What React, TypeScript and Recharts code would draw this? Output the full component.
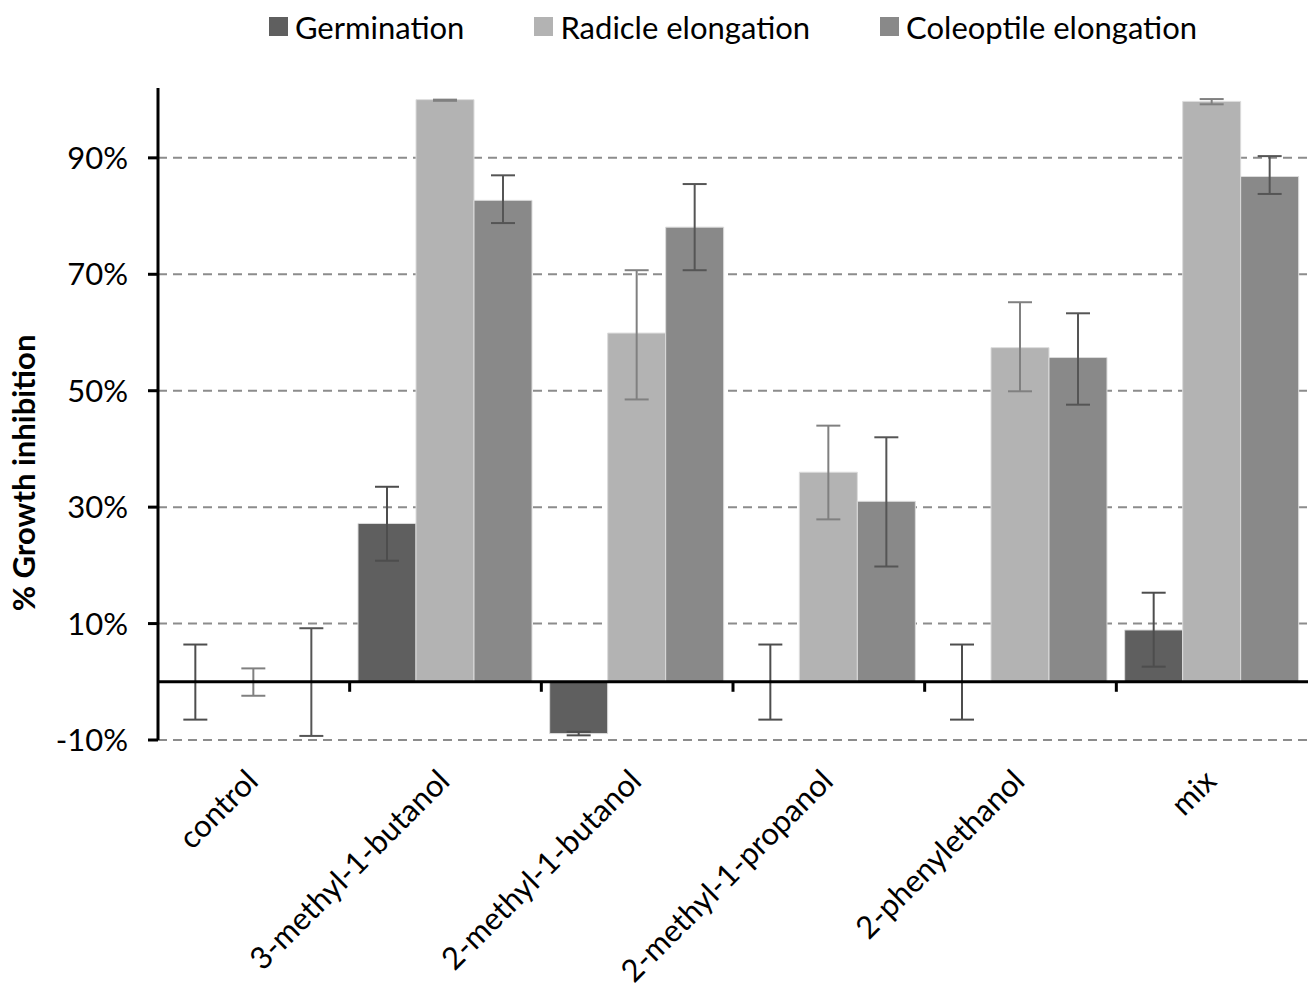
import React from 'react';
import {
  ComposedChart,
  Bar,
  XAxis,
  YAxis,
  CartesianGrid,
  ErrorBar,
  ReferenceLine,
  Legend,
} from 'recharts';

const categories = [
  'control',
  '3-methyl-1-butanol',
  '2-methyl-1-butanol',
  '2-methyl-1-propanol',
  '2-phenylethanol',
  'mix',
];

const germination = [0.01, 27.2, -8.9, 0.01, 0.01, 8.9];
const germinationLow = [-6.5, 20.8, -9.2, -6.5, -6.5, 2.6];
const germinationHigh = [6.4, 33.5, -8.6, 6.4, 6.4, 15.3];

const radicle = [0.01, 100, 59.9, 36.0, 57.4, 99.7];
const radicleLow = [-2.4, 99.8, 48.5, 27.9, 49.9, 99.2];
const radicleHigh = [2.3, 100.0, 70.7, 44.0, 65.2, 100.1];

const coleoptile = [0.01, 82.7, 78.1, 31.0, 55.7, 86.8];
const coleoptileLow = [-9.3, 78.8, 70.7, 19.8, 47.6, 83.8];
const coleoptileHigh = [9.2, 87.0, 85.5, 42.0, 63.3, 90.3];

const yTicks = [-10, 10, 30, 50, 70, 90];

const seriesNames = ['Germination', 'Radicle elongation', 'Coleoptile elongation'];
const seriesColors = ['#5f5f5f', '#b3b3b3', '#898989'];
const errorColors = ['#4d4d4d', '#808080', '#555555'];

const FONT = 'Lato, "Open Sans", sans-serif';

const data = categories.map((name, i) => ({
  name,
  germination: germination[i],
  germErr: [germination[i] - germinationLow[i], germinationHigh[i] - germination[i]],
  radicle: radicle[i],
  radErr: [radicle[i] - radicleLow[i], radicleHigh[i] - radicle[i]],
  coleoptile: coleoptile[i],
  colErr: [coleoptile[i] - coleoptileLow[i], coleoptileHigh[i] - coleoptile[i]],
}));

const XTick = (props: any) => {
  const { x, y, payload } = props;
  const ax = x + 6;
  const ay = y + 35;
  return (
    <text
      x={ax}
      y={ay}
      transform={`rotate(-45, ${ax}, ${ay})`}
      textAnchor="end"
      fontFamily={FONT}
      fontSize={31}
      fill="#000"
    >
      {payload.value}
    </text>
  );
};

const ZeroAxis = (props: any) => {
  const { x1, y1, x2, y2 } = props;
  const n = categories.length;
  const step = (x2 - x1) / n;
  const ticks = Array.from({ length: n - 1 }, (_, i) => x1 + step * (i + 1));
  return (
    <g>
      <line x1={x1} y1={y1} x2={x2} y2={y2} stroke="#000" strokeWidth={3} />
      {ticks.map((tx, i) => (
        <line key={i} x1={tx} x2={tx} y1={y1} y2={y1 + 10} stroke="#000" strokeWidth={3} />
      ))}
    </g>
  );
};

const LegendContent = () => (
  <div
    style={{
      display: 'flex',
      justifyContent: 'center',
      alignItems: 'center',
      height: 37,
      paddingLeft: 150,
      paddingRight: 8,
      boxSizing: 'border-box',
      fontFamily: FONT,
      fontSize: 31,
      color: '#000',
    }}
  >
    {seriesNames.map((n, i) => (
      <div
        key={n}
        style={{ display: 'flex', alignItems: 'center', marginLeft: i === 0 ? 0 : 70 }}
      >
        <span
          style={{
            display: 'inline-block',
            width: 19,
            height: 19,
            background: seriesColors[i],
            marginRight: 7,
          }}
        />
        <span>{n}</span>
      </div>
    ))}
  </div>
);

const YLabel = (props: any) => {
  const { viewBox } = props;
  const cx = viewBox.x + 27;
  const cy = viewBox.y + viewBox.height / 2 + 59;
  return (
    <text
      x={cx}
      y={cy}
      transform={`rotate(-90, ${cx}, ${cy})`}
      textAnchor="middle"
      fontFamily={FONT}
      fontSize={31}
      fontWeight="bold"
      fill="#000"
    >
      % Growth inhibition
    </text>
  );
};

export default function App() {
  return (
    <div style={{ width: 1308, height: 984 }}>
      <ComposedChart
        width={1308}
        height={984}
        data={data}
        margin={{ top: 43, right: 8, bottom: 0, left: 0 }}
        barCategoryGap="4.35%"
        barGap={0}
      >
        <Legend
          verticalAlign="top"
          content={<LegendContent />}
          wrapperStyle={{ top: 0, left: 0, width: 1308 }}
        />
        <CartesianGrid
          horizontal
          vertical={false}
          horizontalValues={yTicks}
          stroke="#8c8c8c"
          strokeWidth={2}
          strokeDasharray="9 6"
        />
        <XAxis
          dataKey="name"
          axisLine={false}
          tickLine={false}
          interval={0}
          height={252}
          tick={<XTick />}
        />
        <YAxis
          width={150}
          domain={[-10, 102]}
          ticks={yTicks}
          allowDataOverflow
          tickFormatter={(v: number) => `${v}%`}
          axisLine={{ stroke: '#000', strokeWidth: 3 }}
          tickLine={{ stroke: '#000', strokeWidth: 3 }}
          tickSize={10}
          tickMargin={20}
          tick={{ fontFamily: FONT, fontSize: 31, fill: '#000' }}
          label={<YLabel />}
        />
        <Bar
          dataKey="germination"
          name={seriesNames[0]}
          fill={seriesColors[0]}
          stroke="#dcdcdc"
          strokeWidth={1}
          isAnimationActive={false}
        >
          <ErrorBar dataKey="germErr" direction="y" width={12} stroke={errorColors[0]} strokeWidth={2} />
        </Bar>
        <Bar
          dataKey="radicle"
          name={seriesNames[1]}
          fill={seriesColors[1]}
          stroke="#dcdcdc"
          strokeWidth={1}
          isAnimationActive={false}
        >
          <ErrorBar dataKey="radErr" direction="y" width={12} stroke={errorColors[1]} strokeWidth={2} />
        </Bar>
        <Bar
          dataKey="coleoptile"
          name={seriesNames[2]}
          fill={seriesColors[2]}
          stroke="#dcdcdc"
          strokeWidth={1}
          isAnimationActive={false}
        >
          <ErrorBar dataKey="colErr" direction="y" width={12} stroke={errorColors[2]} strokeWidth={2} />
        </Bar>
        <ReferenceLine y={0} shape={<ZeroAxis />} />
      </ComposedChart>
    </div>
  );
}
